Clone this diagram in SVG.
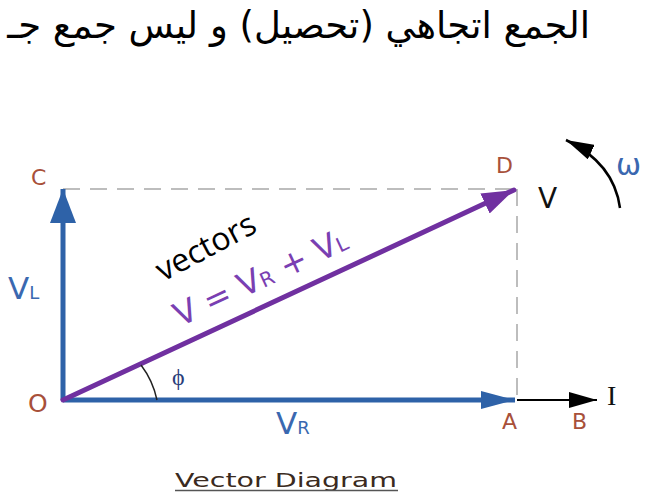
<svg xmlns="http://www.w3.org/2000/svg" width="646" height="492" viewBox="0 0 646 492">
<style>
.lbl{font-family:"DejaVu Sans","Liberation Sans",sans-serif;fill:#a8503a}
.blu{font-family:"DejaVu Sans","Liberation Sans",sans-serif;fill:#3a68b0}
.pur{font-family:"DejaVu Sans","Liberation Sans",sans-serif;fill:#7a3fb2}
.dash{stroke:#bdbdbd;stroke-width:2;stroke-dasharray:17 10;fill:none}
</style>
<defs>
<marker id="ab" markerUnits="userSpaceOnUse" markerWidth="34" markerHeight="26" refX="34" refY="13" orient="auto"><path d="M0,0 L34,13 L0,26 Z" fill="#2e62a8"/></marker>
<marker id="ab2" markerUnits="userSpaceOnUse" markerWidth="34" markerHeight="18" refX="34" refY="9" orient="auto"><path d="M0,0 L34,9 L0,18 Z" fill="#2e62a8"/></marker>
<marker id="ap" markerUnits="userSpaceOnUse" markerWidth="32" markerHeight="22" refX="32" refY="11" orient="auto"><path d="M0,0 L32,11 L0,22 Z" fill="#7030a0"/></marker>
<marker id="ak" markerUnits="userSpaceOnUse" markerWidth="28" markerHeight="16" refX="28" refY="8" orient="auto"><path d="M0,0 L28,8 L0,16 Z" fill="#000"/></marker>
</defs>
<text x="590" y="38" direction="rtl" font-family="'DejaVu Sans','Liberation Sans',sans-serif" font-size="37" fill="#000">الجمع اتجاهي (تحصيل) و ليس جمع جـ</text>
<g id="connectors">
<line class="dash" x1="63" y1="189" x2="517" y2="189"/>
<line class="dash" x1="517" y1="189" x2="517" y2="400"/>
<line x1="517" y1="400" x2="597" y2="400" stroke="#000" stroke-width="2" marker-end="url(#ak)"/>
<line x1="63" y1="400" x2="515" y2="400" stroke="#2e62a8" stroke-width="5" marker-end="url(#ab2)"/>
<line x1="63" y1="400" x2="63" y2="189" stroke="#2e62a8" stroke-width="5" marker-end="url(#ab)"/>
<line x1="63" y1="400" x2="514" y2="190" stroke="#7030a0" stroke-width="5" marker-end="url(#ap)" stroke-linecap="round"/>
<path d="M141,365 A88,88 0 0 1 157,400" fill="none" stroke="#222" stroke-width="1.5"/>
<path d="M620,208 Q614,163 566,140" fill="none" stroke="#000" stroke-width="2.5" marker-end="url(#ak)"/>
</g>
<g id="node-O"><text class="lbl" x="28" y="412" font-size="25">O</text></g>
<g id="node-C"><text class="lbl" x="31" y="185" font-size="22">C</text></g>
<g id="node-D"><text class="lbl" x="496" y="173" font-size="22">D</text></g>
<g id="node-A"><text class="lbl" x="502" y="429" font-size="22">A</text></g>
<g id="node-B"><text class="lbl" x="572" y="429" font-size="22">B</text></g>
<g id="node-V"><text x="538" y="208" font-family="'DejaVu Sans','Liberation Sans',sans-serif" font-size="28" fill="#111">V</text></g>
<g id="node-I"><text x="607" y="405" font-family="'Liberation Serif',serif" font-size="28" fill="#111">I</text></g>
<g id="node-omega"><text x="616" y="175" font-family="'DejaVu Sans',sans-serif" font-size="30" fill="#3a68b0">ω</text></g>
<g id="label-VL"><text class="blu" x="8" y="299" font-size="31">V<tspan font-size="18">L</tspan></text></g>
<g id="label-VR"><text class="blu" x="276" y="434" font-size="31">V<tspan font-size="18">R</tspan></text></g>
<g id="label-phi"><text x="172" y="385" font-family="'Liberation Serif',serif" font-size="24" fill="#2a3d7a">ϕ</text></g>
<g id="label-eq"><text class="pur" transform="translate(180,327) rotate(-24.9)" font-size="32.5">V = V<tspan font-size="20">R</tspan> + V<tspan font-size="20">L</tspan></text></g>
<g id="label-vectors"><text transform="translate(163,282) rotate(-28)" font-family="'Open Sans',sans-serif" font-size="32" fill="#000">vectors</text></g>
<g id="title"><text x="175" y="487" font-family="'DejaVu Sans',sans-serif" font-size="20" fill="#3a2a20" textLength="222" lengthAdjust="spacingAndGlyphs">Vector Diagram</text>
<line x1="175" y1="490.5" x2="398" y2="490.5" stroke="#555" stroke-width="1.5"/></g>
</svg>
